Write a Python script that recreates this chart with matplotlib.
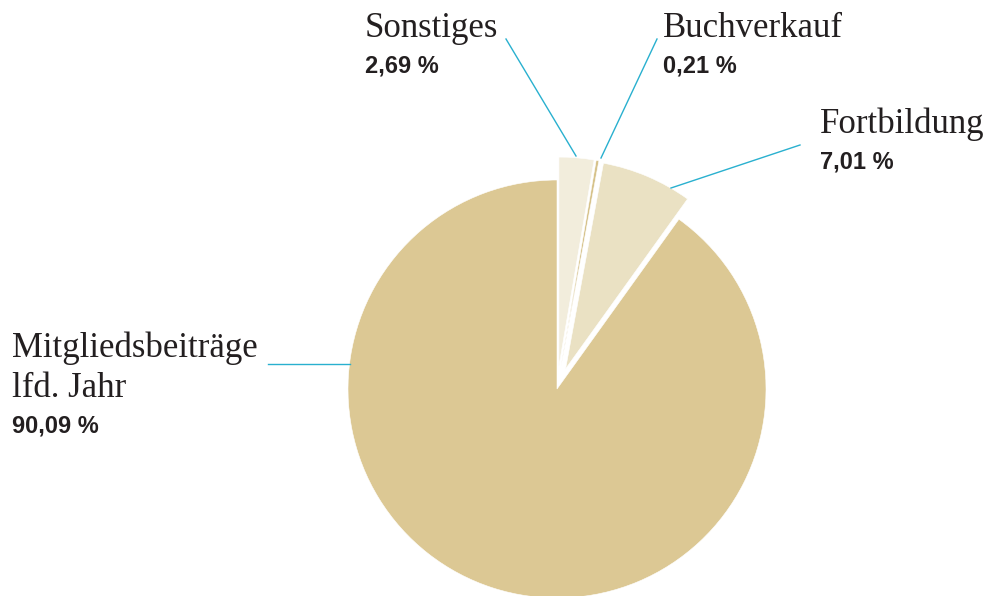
import matplotlib.pyplot as plt
from matplotlib import font_manager

# data
labels = ['Sonstiges', 'Buchverkauf', 'Fortbildung', 'Mitgliedsbeiträge\nlfd. Jahr']
values = [2.69, 0.21, 7.01, 90.09]
value_text = ['2,69 %', '0,21 %', '7,01 %', '90,09 %']
colors = ['#F2EDDC', '#D6C28A', '#EAE1C3', '#DCC894']

W, H = 990, 596

def py(y):  # pixel row (top down) -> axes y (bottom up)
    return H - y

fig = plt.figure(figsize=(9.9, 5.96), dpi=100)
ax = fig.add_axes([0, 0, 1, 1])

# explode is in data units (pixels here)
ax.pie(values, colors=colors, startangle=90, counterclock=False,
       explode=[23, 23, 22, 0], radius=209, center=(557, py(389)),
       wedgeprops=dict(edgecolor='white', linewidth=0.4), frame=True)
ax.set_xlim(0, W)
ax.set_ylim(0, H)
ax.set_aspect('equal')
ax.axis('off')

serif = ['Liberation Serif', 'DejaVu Serif']
installed = {f.name for f in font_manager.fontManager.ttflist}
if 'Liberation Sans Narrow' in installed:
    narrow, nsize = ['Liberation Sans Narrow'], 20
else:
    narrow, nsize = ['Liberation Sans', 'DejaVu Sans'], 17
txt_col = '#231F20'
line_col = '#29B0CF'

# label positions (x, baseline of first line) and leader lines
label_pos = [(365, 37), (663, 37), (820, 133), (12, 357)]
leaders = [((506, 39), (576, 156)),
           ((657, 39), (601, 158)),
           ((800, 145), (671, 188)),
           ((268, 364), (350, 364))]

for lab, vt, (x, yb), (p0, p1) in zip(labels, value_text, label_pos, leaders):
    lines = lab.split('\n')
    for i, ln in enumerate(lines):
        ax.text(x, py(yb + 40 * i), ln, fontsize=25, family=serif,
                color=txt_col, va='baseline', ha='left')
    ax.text(x, py(yb + 40 * (len(lines) - 1) + 36), vt, fontsize=nsize,
            family=narrow, fontweight='bold', color=txt_col,
            va='baseline', ha='left')
    ax.plot([p0[0], p1[0]], [py(p0[1]), py(p1[1])], color=line_col, lw=1)

fig.savefig('out.png', dpi=100)
